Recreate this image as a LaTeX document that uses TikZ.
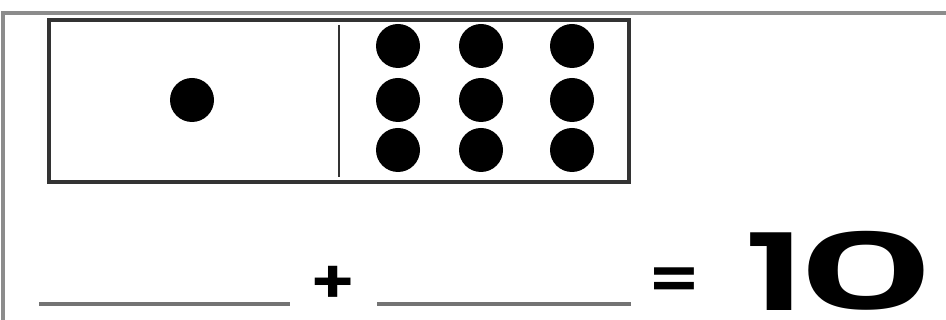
\documentclass[tikz,border=0pt]{standalone}
\usepackage{fontspec}
\setmainfont{Poppins}
\newfontfamily\numfont{Poppins SemiBold}
\usetikzlibrary{positioning,calc}

\begin{document}
\begin{tikzpicture}[
    x=0.03cm, y=-0.03cm,
    frame/.style = {line width=3.4pt, draw=black!45},
    domino/.style = {rectangle, draw=black!80, line width=3.2pt, minimum width=17.4cm, minimum height=4.85cm, inner sep=0pt},
    dot/.style = {circle, fill=black, minimum size=1.32cm, inner sep=0pt},
    blank/.style = {line width=2.6pt, draw=black!55},
    sign/.style = {font=\fontsize{52}{52}\numfont, inner sep=0pt},
    numeral/.style = {font=\fontsize{91}{91}\numfont, inner sep=0pt, anchor=base}
]
\useasboundingbox (0,0) rectangle (946,320);

% page border
\draw[frame] (3,320) -- (3,13) -- (946,13);

% domino
\node[domino] (domino) at (339,101) {};
\draw[draw=black!80, line width=2.4pt] ([yshift=-0.2cm]domino.north) -- ([yshift=0.2cm]domino.south);
\node[dot] (one) at (192,100) {};
\foreach \i/\x in {1/398,2/481,3/572}
  \foreach \j/\y in {1/46,2/100,3/150}
    \node[dot] (d\i\j) at (\x,\y) {};

% number sentence
\coordinate (a1) at (39,304);
\coordinate (a2) at (290,304);
\coordinate (b1) at (377,304);
\coordinate (b2) at (631,304);
\draw[blank] (a1) -- (a2);
\draw[blank] (b1) -- (b2);
\node[sign] (plus) at (333,285) {\scalebox{1.15}[1]{+}};
\node[sign] (equals) at (674,284) {\scalebox{1.2}[1]{=}};
\node[numeral] (tens) at (775,311) {\scalebox{1.6}[1]{1}};
\node[numeral] (units) at (866,311) {\scalebox{2.0}[1]{0}};
\end{tikzpicture}
\end{document}
